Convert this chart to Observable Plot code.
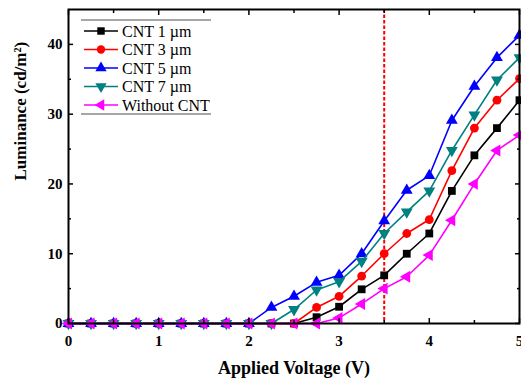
<!DOCTYPE html>
<html>
<head>
<meta charset="utf-8">
<script src="https://cdn.jsdelivr.net/npm/d3@7"></script>
<script src="https://cdn.jsdelivr.net/npm/@observablehq/plot@0.6"></script>
<style>
  html, body { margin: 0; padding: 0; background: white; }
  #wrap { position: relative; width: 521px; height: 385px; }
  #legend { position: absolute; left: 0; top: 0; }
</style>
</head>
<body>
<div id="wrap"></div>
<script>
const voltage = [0, 0.25, 0.5, 0.75, 1, 1.25, 1.5, 1.75, 2, 2.25, 2.5, 2.75, 3, 3.25, 3.5, 3.75, 4, 4.25, 4.5, 4.75, 5];
const cnt1 = [0,0,0,0,0,0,0,0,0,0,0, 0.9, 2.4, 4.9, 6.9, 10.0, 12.9, 19.0, 24.1, 28.0, 32.0];
const cnt3 = [0,0,0,0,0,0,0,0,0,0,0, 2.3, 3.9, 6.8, 10.0, 12.9, 14.9, 21.9, 28.0, 32.0, 35.1];
const cnt5 = [0,0,0,0,0,0,0,0,0, 2.3, 3.9, 5.9, 6.9, 10.0, 14.7, 19.1, 21.2, 29.1, 34.0, 38.1, 41.3];
const cnt7 = [0,0,0,0,0,0,0,0,0,0, 2.0, 4.8, 6.0, 8.9, 12.9, 16.0, 19.0, 24.8, 29.9, 34.9, 38.1];
const without = [0,0,0,0,0,0,0,0,0,0,0,0, 0.8, 2.8, 5.0, 6.7, 9.8, 14.8, 20.0, 24.8, 27.0];
const seriesNames = ["CNT 1 \u00b5m", "CNT 3 \u00b5m", "CNT 5 \u00b5m", "CNT 7 \u00b5m", "Without CNT"];
const seriesColors = ["#000000", "#ff0000", "#0000ff", "#008080", "#ff00ff"];
const xTicks = [0, 1, 2, 3, 4, 5];
const xMinor = [0.5, 1.5, 2.5, 3.5, 4.5];
const yTicks = [0, 10, 20, 30, 40];
const yMinor = [5, 15, 25, 35];
const markerVoltage = [3.5];
const xTitle = "Applied Voltage (V)";
const yTitle = "Luminance (cd/m\u00b2)";

// custom symbols
const triDown = { draw(ctx, size) {
  const y = -Math.sqrt(size / (Math.sqrt(3) * 3));
  ctx.moveTo(0, -2 * y); ctx.lineTo(-Math.sqrt(3) * y, y); ctx.lineTo(Math.sqrt(3) * y, y); ctx.closePath();
}};
const triLeft = { draw(ctx, size) {
  const y = -Math.sqrt(size / (Math.sqrt(3) * 3));
  ctx.moveTo(2 * y, 0); ctx.lineTo(-y, -Math.sqrt(3) * y); ctx.lineTo(-y, Math.sqrt(3) * y); ctx.closePath();
}};
const symbols = [d3.symbolSquare, d3.symbolCircle, d3.symbolTriangle, triDown, triLeft];
const seriesValues = [cnt1, cnt3, cnt5, cnt7, without];

const marks = [];
seriesValues.forEach((vals, i) => {
  const data = voltage.map((v, j) => ({v, l: vals[j]}));
  marks.push(Plot.line(data, {x: "v", y: "l", stroke: seriesColors[i], strokeWidth: 1.6}));
  marks.push(Plot.dot(data, {x: "v", y: "l", fill: seriesColors[i], stroke: "none", symbol: symbols[i], r: 4.4}));
});

const tk = {tickFormat: () => "", label: null, strokeWidth: 1.5};
const chart = Plot.plot({
  width: 521, height: 385,
  marginLeft: 68, marginRight: 2, marginTop: 9, marginBottom: 62,
  x: {domain: [0, 5]},
  y: {domain: [0, 45]},
  style: {fontFamily: "'Liberation Serif', serif", fontSize: "15px", fontWeight: "bold", background: "white", color: "black"},
  marks: [
    Plot.ruleX(markerVoltage, {stroke: "#ff0000", strokeWidth: 2, strokeDasharray: "3.5,2"}),
    ...marks,
    Plot.axisX({ticks: xTicks, tickSize: 0, tickPadding: 12, label: null, tickFormat: d => d}),
    Plot.axisX({ticks: xTicks, tickSize: 5, dy: -5, ...tk}),
    Plot.axisX({ticks: xMinor, tickSize: 3, dy: -3, ...tk}),
    Plot.axisX({anchor: "top", ticks: xTicks, tickSize: 5, dy: 5, ...tk}),
    Plot.axisX({anchor: "top", ticks: xMinor, tickSize: 3, dy: 3, ...tk}),
    Plot.axisY({ticks: yTicks, tickSize: 0, tickPadding: 6, label: null, tickFormat: d => d}),
    Plot.axisY({ticks: yTicks, tickSize: 5, dx: 5, ...tk}),
    Plot.axisY({ticks: yMinor, tickSize: 3, dx: 3, ...tk}),
    Plot.axisY({anchor: "right", ticks: yTicks, tickSize: 5, dx: -5, ...tk}),
    Plot.axisY({anchor: "right", ticks: yMinor, tickSize: 3, dx: -3, ...tk}),
    Plot.frame({stroke: "black", strokeWidth: 2}),
    Plot.text([xTitle], {frameAnchor: "bottom", dy: 50, fontSize: 18, fontWeight: "bold", text: d => d}),
    Plot.text([yTitle], {frameAnchor: "left", dx: -48, dy: 14, rotate: -90, fontSize: 17, fontWeight: "bold", text: d => d})
  ]
});
document.getElementById("wrap").appendChild(chart);

// legend overlay
const lg = d3.select("#wrap").append("svg").attr("id", "legend")
  .attr("width", 521).attr("height", 385)
  .style("font-family", "'Liberation Serif', serif").style("font-size", "16px");
lg.append("line").attr("x1", 81).attr("x2", 211).attr("y1", 20).attr("y2", 20).attr("stroke", "#888").attr("stroke-width", 1.5);
lg.append("line").attr("x1", 81).attr("x2", 211).attr("y1", 114).attr("y2", 114).attr("stroke", "#888").attr("stroke-width", 1.5);
const rowY = [31, 49.5, 68, 86.5, 105];
seriesNames.forEach((name, i) => {
  const y = rowY[i];
  lg.append("line").attr("x1", 84).attr("x2", 118).attr("y1", y).attr("y2", y).attr("stroke", seriesColors[i]).attr("stroke-width", 1.3);
  lg.append("path").attr("transform", `translate(101,${y})`)
    .attr("d", d3.symbol(symbols[i], Math.PI * 4.2 * 4.2)())
    .attr("fill", seriesColors[i]);
  lg.append("text").attr("x", 122).attr("y", y).attr("dy", "0.35em").text(name);
});
</script>
</body>
</html>
